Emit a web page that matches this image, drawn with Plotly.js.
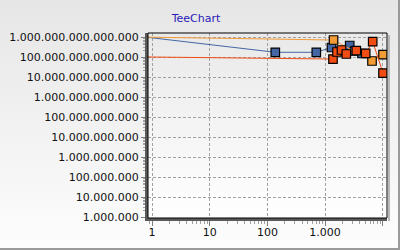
<!DOCTYPE html>
<html>
<head>
<meta charset="utf-8">
<script src="https://cdn.plot.ly/plotly-3.0.1.min.js"></script>
<style>
html,body{margin:0;padding:0;background:#fff;}
#chart{width:400px;height:250px;}
</style>
</head>
<body>
<div id="chart"></div>
<script>
// ---- data ----
var blueX   = [0.5, 137, 704, 1291, 2669, 3260, 4360];
var blueY   = [1.15e15, 1.72e14, 1.72e14, 2.99e14, 3.76e14, 2.0e14, 1.5e14];
var orangeX = [0.5, 1400, 6500, 10080];
var orangeY = [1.0e15, 7.08e14, 6.3e13, 1.3e14];
var redX    = [0.5, 1370, 1608, 1923, 2330, 3475, 5055, 6680, 10080];
var redY    = [1.02e14, 7.9e13, 1.78e14, 2.24e14, 1.41e14, 2.07e14, 1.53e14, 5.82e14, 1.58e13];
var titleText = "TeeChart";

// ---- layout geometry ----
var W = 400, H = 250;
var mL = 148, mR = 13, mT = 33, mB = 32;
var pw = W - mL - mR, ph = H - mT - mB;
function px(p){ return (p - mL) / pw; }
function py(q){ return (H - mB - q) / ph; }

function gradSvg(c1, c2){
  var s = "<svg xmlns='http://www.w3.org/2000/svg' width='100' height='100' preserveAspectRatio='none'>" +
          "<defs><linearGradient id='g' x1='0' y1='0' x2='0' y2='1'>" +
          "<stop offset='0' stop-color='" + c1 + "'/><stop offset='1' stop-color='" + c2 + "'/>" +
          "</linearGradient></defs><rect width='100' height='100' fill='url(#g)'/></svg>";
  return "data:image/svg+xml;base64," + btoa(s);
}

var font = {family: "DejaVu Sans, Verdana, sans-serif", size: 11, color: "#111"};

function series(x, y, color){
  return {
    type: "scatter", mode: "lines+markers", x: x, y: y,
    line: {color: color, width: 1},
    marker: {symbol: "square", size: 8.5, color: color, line: {color: "#000", width: 1.2}},
    cliponaxis: true, hoverinfo: "skip", showlegend: false
  };
}

var data = [
  series(blueX, blueY, "#4466A3"),
  series(orangeX, orangeY, "#F39C35"),
  series(redX, redY, "#F14C14")
];

var layout = {
  width: W, height: H,
  margin: {l: mL, r: mR, t: mT, b: mB, pad: 0},
  paper_bgcolor: "rgba(0,0,0,0)",
  plot_bgcolor: "rgba(0,0,0,0)",
  separators: ",.",
  showlegend: false,
  title: {text: titleText, xref: "container", yref: "container", x: 196 / W, y: 1 - 18 / H,
          xanchor: "center", yanchor: "middle",
          font: {family: "DejaVu Sans, Verdana, sans-serif", size: 11, color: "#2a1ab8"}},
  xaxis: {
    type: "log", range: [-4 / 57.7, -4 / 57.7 + pw / 57.7], dtick: 1, tickformat: ",.0f",
    showgrid: true, gridcolor: "#a0a0a0", griddash: "3px,2px", gridwidth: 1,
    zeroline: false, showline: true, linecolor: "#5a5a5a", linewidth: 3,
    ticks: "outside", ticklen: 5, tickcolor: "#808080", tickwidth: 1,
    ticklabelstandoff: -3,
    minor: {ticks: "outside", ticklen: 3, tickcolor: "#a0a0a0", showgrid: false},
    tickfont: font, automargin: false, fixedrange: true
  },
  yaxis: {
    type: "log", range: [15.2 - ph / 20, 15.2], dtick: 1, tickformat: ",.0f",
    showgrid: true, gridcolor: "#a0a0a0", griddash: "3px,2px", gridwidth: 1,
    zeroline: false, showline: true, linecolor: "#5a5a5a", linewidth: 3,
    ticks: "outside", ticklen: 4, tickcolor: "#808080", tickwidth: 1,
    minor: {ticks: "outside", ticklen: 2, tickcolor: "#a0a0a0", showgrid: false},
    tickfont: font, automargin: false, fixedrange: true
  },
  images: [
    {source: gradSvg("#e6e6e6", "#fdfdfd"), xref: "paper", yref: "paper",
     x: px(0), y: py(0), sizex: W / pw, sizey: H / ph, xanchor: "left", yanchor: "top",
     sizing: "stretch", layer: "below"},
    {source: gradSvg("#e9e9e9", "#ffffff"), xref: "paper", yref: "paper",
     x: 0, y: 1, sizex: 1, sizey: 1, xanchor: "left", yanchor: "top",
     sizing: "stretch", layer: "below"}
  ],
  shapes: [
    {type: "rect", xref: "paper", yref: "paper", x0: 0, x1: 1, y0: 0, y1: 1,
     line: {color: "#000", width: 1}, layer: "above"},
    {type: "line", xref: "paper", yref: "paper", x0: px(389), x1: px(389), y0: py(35), y1: py(221),
     line: {color: "#b8b8b8", width: 2}},
    {type: "line", xref: "paper", yref: "paper", x0: px(399), x1: px(399), y0: py(0), y1: py(250),
     line: {color: "#9a9a9a", width: 2}},
    {type: "line", xref: "paper", yref: "paper", x0: px(0), x1: px(400), y0: py(249), y1: py(249),
     line: {color: "#9a9a9a", width: 2}}
  ]
};

Plotly.newPlot("chart", data, layout, {staticPlot: true, displayModeBar: false});
</script>
</body>
</html>
